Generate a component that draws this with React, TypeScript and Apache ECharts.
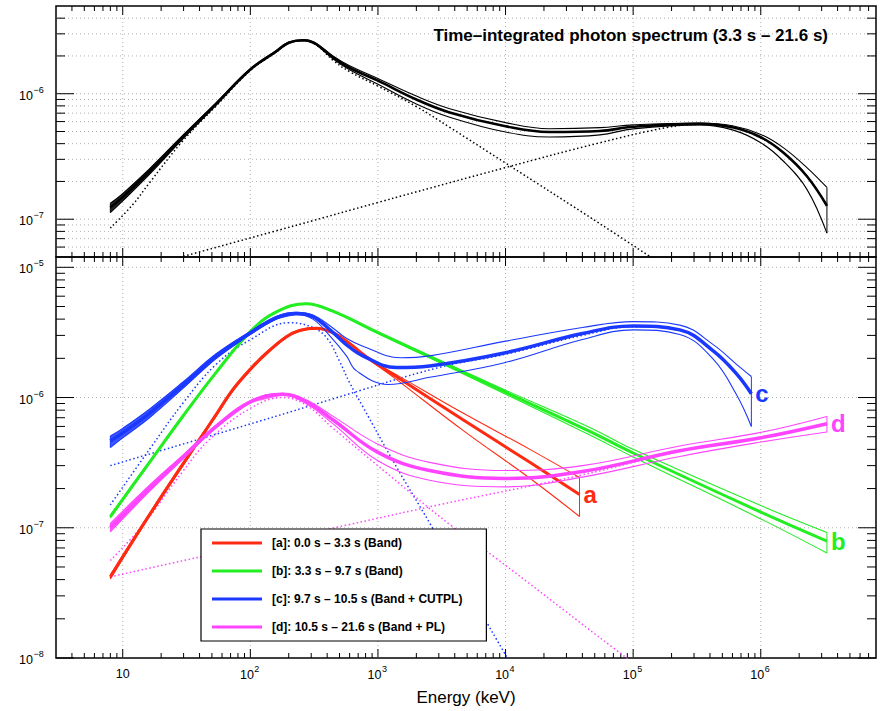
import React, { useEffect, useRef } from "react";
import * as echarts from "echarts";

const FONT = '"Liberation Sans", Arial, Helvetica, sans-serif';

// ---------- axis structure ----------
const X_MIN = 3;
const X_MAX = 8e6;
const X_MAJOR = [10, 100, 1e3, 1e4, 1e5, 1e6];
const X_LABEL_BASE = ["10", "10", "10", "10", "10", "10"];
const X_LABEL_EXP = ["", "2", "3", "4", "5", "6"];
const TOP_Y_MIN = 5e-8;
const TOP_Y_MAX = 5e-6;
const TOP_Y_MAJOR = [1e-7, 1e-6];
const TOP_Y_EXP = ["−7", "−6"];
const BOT_Y_MIN = 1e-8;
const BOT_Y_MAX = 1.2e-5;
const BOT_Y_MAJOR = [1e-8, 1e-7, 1e-6, 1e-5];
const BOT_Y_EXP = ["−8", "−7", "−6", "−5"];

const TITLE = "Time–integrated photon spectrum (3.3 s – 21.6 s)";
const LEGEND_NAMES = [
  "[a]: 0.0 s – 3.3 s (Band)",
  "[b]: 3.3 s – 9.7 s (Band)",
  "[c]: 9.7 s – 10.5 s (Band + CUTPL)",
  "[d]: 10.5 s – 21.6 s (Band + PL)",
];
const CURVE_TAGS = ["a", "b", "c", "d"];

// ---------- top panel: time-integrated spectrum [E keV, vFv] ----------
const TOP_MID = [[8,1.24e-7],[10,1.5e-7],[16.2,2.4e-7],[29.5,4.5e-7],[54,8.3e-7],[100,1.56e-6],[160,2.18e-6],[200,2.55e-6],[258,2.67e-6],[290,2.63e-6],[330,2.48e-6],[444,1.95e-6],[600,1.61e-6],[1000,1.27e-6],[2000,9.0e-7],[3650,7.1e-7],[1e4,5.5e-7],[2.2e4,4.95e-7],[5.5e4,5.05e-7],[1e5,5.45e-7],[3.3e5,5.75e-7],[6e5,5.4e-7],[1e6,4.5e-7],[1.5e6,3.4e-7],[2.3e6,2.2e-7],[3.3e6,1.28e-7]];
const TOP_HI = [[8,1.34e-7],[10,1.6e-7],[16.2,2.52e-7],[29.5,4.65e-7],[54,8.5e-7],[100,1.58e-6],[160,2.21e-6],[200,2.58e-6],[258,2.7e-6],[290,2.66e-6],[330,2.52e-6],[444,2.0e-6],[600,1.67e-6],[1000,1.32e-6],[2000,9.57e-7],[3650,7.6e-7],[1e4,5.88e-7],[2.2e4,5.26e-7],[5.5e4,5.37e-7],[1e5,5.65e-7],[3.3e5,5.85e-7],[6e5,5.55e-7],[1e6,4.74e-7],[1.5e6,3.72e-7],[2.3e6,2.58e-7],[3.3e6,1.79e-7]];
const TOP_LO = [[8,1.13e-7],[10,1.4e-7],[16.2,2.28e-7],[29.5,4.35e-7],[54,8.1e-7],[100,1.54e-6],[160,2.15e-6],[200,2.52e-6],[258,2.64e-6],[290,2.6e-6],[330,2.44e-6],[444,1.9e-6],[600,1.55e-6],[1000,1.19e-6],[2000,8.3e-7],[3650,6.5e-7],[1e4,4.95e-7],[2.2e4,4.52e-7],[5.5e4,4.7e-7],[1e5,5.25e-7],[3.3e5,5.65e-7],[6e5,5.15e-7],[1e6,4.07e-7],[1.5e6,2.91e-7],[2.3e6,1.73e-7],[3.3e6,7.74e-8]];
const TOP_BAND_COMP = [[8,8.5e-8],[12,1.31e-7],[16.2,1.95e-7],[29.5,4.2e-7],[54,8.0e-7],[100,1.53e-6],[160,2.15e-6],[200,2.52e-6],[258,2.64e-6],[330,2.44e-6],[444,1.85e-6],[600,1.5e-6],[1000,1.15e-6],[2000,7.9e-7],[3650,5.4e-7],[1e4,2.8e-7],[5.5e4,9.2e-8],[1.6e5,4.5e-8]];
const TOP_CPL_COMP = [[8,3.5e-8],[243,9.1e-8],[1000,1.36e-7],[1e4,2.58e-7],[5.5e4,4.07e-7],[1.83e5,5.37e-7],[3.3e5,5.7e-7],[6e5,5.35e-7],[1e6,4.45e-7],[1.5e6,3.4e-7],[2.3e6,2.2e-7],[3.3e6,1.28e-7]];

// ---------- bottom panel ----------
const A_MID = [[8,4.2e-8],[14.4,1.05e-7],[25,2.4e-7],[40,4.77e-7],[54,7.4e-7],[73,1.15e-6],[100,1.65e-6],[133,2.18e-6],[191,2.92e-6],[243,3.27e-6],[328,3.41e-6],[443,3.15e-6],[600,2.6e-6],[762,2.15e-6],[1000,1.78e-6],[1393,1.45e-6],[4640,6.75e-7],[1.55e4,3.18e-7],[3.8e4,1.8e-7]];
const A_HI = [[8,4.35e-8],[14.4,1.08e-7],[25,2.47e-7],[40,4.9e-7],[54,7.6e-7],[73,1.18e-6],[100,1.69e-6],[133,2.23e-6],[191,2.97e-6],[243,3.31e-6],[328,3.45e-6],[443,3.18e-6],[600,2.63e-6],[762,2.18e-6],[1000,1.8e-6],[1393,1.5e-6],[4640,7.6e-7],[1.55e4,4.0e-7],[3.8e4,2.43e-7]];
const A_LO = [[8,4.05e-8],[14.4,1.02e-7],[25,2.33e-7],[40,4.64e-7],[54,7.2e-7],[73,1.12e-6],[100,1.61e-6],[133,2.13e-6],[191,2.87e-6],[243,3.23e-6],[328,3.37e-6],[443,3.12e-6],[600,2.57e-6],[762,2.12e-6],[1000,1.75e-6],[1393,1.38e-6],[4640,5.6e-7],[1.55e4,2.4e-7],[3.8e4,1.22e-7]];

const B_MID = [[8,1.22e-7],[16.2,3.18e-7],[29.5,7.15e-7],[54,1.56e-6],[100,3.21e-6],[160,4.55e-6],[274,5.26e-6],[443,4.6e-6],[1000,3.15e-6],[3000,1.91e-6],[1e4,1.1e-6],[4.57e4,5.5e-7],[1e5,3.75e-7],[1e6,1.32e-7],[3.3e6,7.9e-8]];
const B_HI = [[8,1.25e-7],[16.2,3.24e-7],[29.5,7.28e-7],[54,1.58e-6],[100,3.25e-6],[160,4.6e-6],[274,5.3e-6],[443,4.65e-6],[1000,3.2e-6],[3000,1.95e-6],[1e4,1.14e-6],[4.57e4,5.9e-7],[1e5,4.0e-7],[1e6,1.48e-7],[3.3e6,9.2e-8]];
const B_LO = [[8,1.19e-7],[16.2,3.12e-7],[29.5,7.02e-7],[54,1.54e-6],[100,3.17e-6],[160,4.5e-6],[274,5.22e-6],[443,4.55e-6],[1000,3.1e-6],[3000,1.87e-6],[1e4,1.06e-6],[4.57e4,5.15e-7],[1e5,3.5e-7],[1e6,1.17e-7],[3.3e6,6.4e-8]];

const C_MID = [[8,4.64e-7],[10,5.36e-7],[16.2,7.57e-7],[29.5,1.24e-6],[54,2.08e-6],[100,3.13e-6],[160,4.1e-6],[229,4.42e-6],[309,4.18e-6],[430,3.25e-6],[565,2.55e-6],[762,2.09e-6],[1393,1.7e-6],[2540,1.75e-6],[1e4,2.21e-6],[4e4,3.1e-6],[1e5,3.55e-6],[2.32e5,3.31e-6],[4.24e5,2.28e-6],[6.46e5,1.52e-6],[8.44e5,1.07e-6]];
const C_HI = [[8,5.06e-7],[10,5.8e-7],[16.2,8.15e-7],[29.5,1.31e-6],[54,2.17e-6],[100,3.22e-6],[160,4.2e-6],[229,4.52e-6],[309,4.3e-6],[430,3.5e-6],[565,2.85e-6],[762,2.48e-6],[1500,2.02e-6],[2540,2.09e-6],[1e4,2.71e-6],[4e4,3.45e-6],[1e5,3.83e-6],[2.32e5,3.6e-6],[4.24e5,2.55e-6],[6.46e5,1.8e-6],[8.44e5,1.45e-6]];
const C_LO = [[8,4.13e-7],[10,4.9e-7],[16.2,7.0e-7],[29.5,1.17e-6],[54,1.99e-6],[100,3.05e-6],[160,4.0e-6],[229,4.32e-6],[309,4.0e-6],[430,2.9e-6],[565,2.1e-6],[676,1.61e-6],[1200,1.26e-6],[2540,1.43e-6],[1e4,1.86e-6],[4e4,2.79e-6],[1e5,3.31e-6],[2.32e5,3.05e-6],[4.24e5,1.97e-6],[6.46e5,1.05e-6],[8.44e5,6.0e-7]];
const C_BAND_COMP = [[8,1.5e-7],[16.2,4.0e-7],[29.5,9.0e-7],[54,1.8e-6],[100,2.78e-6],[203,3.76e-6],[309,3.45e-6],[400,2.85e-6],[500,1.9e-6],[600,1.3e-6],[762,8.5e-7],[1393,2.95e-7],[2540,1.09e-7],[4930,3.5e-8],[1.1e4,9e-9]];
const C_CUTPL_COMP = [[8,3.0e-7],[160,7.2e-7],[418,9.6e-7],[3000,1.7e-6],[1e4,2.15e-6],[4e4,3.0e-6],[1e5,3.5e-6],[2.32e5,3.28e-6],[4.24e5,2.26e-6],[6.46e5,1.5e-6],[8.44e5,1.06e-6]];

const D_MID = [[8,1.0e-7],[16.2,2.0e-7],[29.5,3.47e-7],[54,6.0e-7],[100,9.27e-7],[180,1.06e-6],[274,9.3e-7],[443,6.75e-7],[1000,3.79e-7],[2540,2.75e-7],[1e4,2.39e-7],[4e4,2.7e-7],[2.32e5,3.9e-7],[1e6,4.91e-7],[3.3e6,6.3e-7]];
const D_HI = [[8,1.08e-7],[16.2,2.12e-7],[29.5,3.6e-7],[54,6.15e-7],[100,9.45e-7],[180,1.08e-6],[274,9.6e-7],[443,7.2e-7],[1000,4.38e-7],[2540,3.18e-7],[1e4,2.75e-7],[4e4,3.0e-7],[2.32e5,4.25e-7],[1e6,5.4e-7],[3.3e6,7.16e-7]];
const D_LO = [[8,9.3e-8],[16.2,1.9e-7],[29.5,3.35e-7],[54,5.85e-7],[100,9.1e-7],[180,1.04e-6],[274,9.0e-7],[443,6.3e-7],[1000,3.27e-7],[2540,2.32e-7],[1e4,2.06e-7],[4e4,2.45e-7],[2.32e5,3.53e-7],[1e6,4.55e-7],[3.3e6,5.44e-7]];
const D_BAND_COMP = [[8,5.6e-8],[14.4,1.05e-7],[29.5,2.7e-7],[48,4.77e-7],[100,8.26e-7],[180,1.0e-6],[274,8.75e-7],[443,5.83e-7],[1236,2.52e-7],[3650,1.06e-7],[8500,5.8e-8],[5.25e4,1.48e-8],[1.2e5,8e-9]];
const D_PL_COMP = [[8,4.2e-8],[40,5.96e-8],[600,1.06e-7],[3000,1.5e-7],[4e4,2.55e-7],[2.32e5,3.86e-7],[1e6,4.9e-7],[3.3e6,6.3e-7]];

// energy up to which each band is drawn densely (solid) like the reference
const TOP_DENSE_TO = 54;
const C_DENSE_TO = 229;
const D_DENSE_TO = 180;

const RED = "#ff2a12";
const GREEN = "#22ee22";
const BLUE = "#1a38ff";
const MAGENTA = "#ff44ff";
const BLACK = "#000000";

function minorTicks(min: number, max: number, decades: number[]) {
  const out: number[] = [];
  decades.forEach((d) => {
    for (let k = 2; k <= 9; k++) {
      const v = d * k;
      if (v > min * 1.001 && v < max * 0.999) out.push(v);
    }
  });
  return out;
}

function axesSeries(gi: number, yMin: number, yMax: number, yMajor: number[], yExp: string[], gridAllY: boolean, showXLabels: boolean) {
  const xMinor = minorTicks(X_MIN, X_MAX, [1, 10, 100, 1e3, 1e4, 1e5, 1e6]);
  const yDec: number[] = [];
  for (let e = -9; e <= -4; e++) yDec.push(Math.pow(10, e));
  const yMinor = minorTicks(yMin, yMax, yDec);
  const baseStyle = { fill: "#000", fontSize: 12.5, fontFamily: FONT, verticalAlign: "middle" };
  const expStyle = { fill: "#000", fontSize: 9, fontFamily: FONT, verticalAlign: "middle" };
  return {
    type: "custom",
    xAxisIndex: gi,
    yAxisIndex: gi,
    silent: true,
    clip: false,
    z: 1,
    data: [[100, yMax]],
    renderItem: (params: any, api: any) => {
      const cs = params.coordSys;
      const L = cs.x, T = cs.y, R = cs.x + cs.width, B = cs.y + cs.height;
      const ch: any[] = [];
      const tick = { stroke: "#000", lineWidth: 1 };
      const grid = { stroke: "#b0b0b0", lineWidth: 1, lineDash: [1, 3] };
      const seg = (x1: number, y1: number, x2: number, y2: number, style: any) =>
        ch.push({ type: "line", shape: { x1, y1, x2, y2 }, style });
      X_MAJOR.forEach((e, i) => {
        const x = api.coord([e, yMax])[0];
        seg(x, T, x, B, grid);
        seg(x, B, x, B - 9, tick);
        seg(x, T, x, T + 9, tick);
        if (showXLabels) {
          if (!X_LABEL_EXP[i]) {
            ch.push({ type: "text", x, y: B + 16, style: { ...baseStyle, text: X_LABEL_BASE[i], align: "center" } });
          } else {
            const x0 = x + 3.5;
            ch.push({ type: "text", x: x0, y: B + 17, style: { ...baseStyle, text: X_LABEL_BASE[i], align: "right" } });
            ch.push({ type: "text", x: x0 + 0.5, y: B + 11, style: { ...expStyle, text: X_LABEL_EXP[i], align: "left" } });
          }
        }
      });
      xMinor.forEach((e) => {
        const x = api.coord([e, yMax])[0];
        seg(x, B, x, B - 5, tick);
        seg(x, T, x, T + 5, tick);
      });
      yMajor.forEach((v, i) => {
        const y = api.coord([100, v])[1];
        if (v > yMin * 1.001 && v < yMax * 0.999) seg(L, y, R, y, grid);
        seg(L, y, L + 18, y, tick);
        seg(R, y, R - 18, y, tick);
        ch.push({ type: "text", x: L - 23, y: y + 2, style: { ...baseStyle, text: "10", align: "right" } });
        ch.push({ type: "text", x: L - 22.5, y: y - 4, style: { ...expStyle, text: yExp[i], align: "left" } });
      });
      yMinor.forEach((v) => {
        const y = api.coord([100, v])[1];
        if (gridAllY) seg(L, y, R, y, grid);
        seg(L, y, L + 9, y, tick);
        seg(R, y, R - 9, y, tick);
      });
      return { type: "group", children: ch };
    },
  };
}

// solid fill between the upper and lower edge where the reference band is dense
function denseFill(gi: number, hi: number[][], lo: number[][], upTo: number, color: string) {
  return {
    type: "custom",
    xAxisIndex: gi,
    yAxisIndex: gi,
    silent: true,
    clip: true,
    z: 3,
    data: [[100, 1e-6]],
    renderItem: (params: any, api: any) => {
      const top = hi.filter((p) => p[0] <= upTo).map((p) => api.coord(p));
      const bot = lo.filter((p) => p[0] <= upTo).map((p) => api.coord(p)).reverse();
      return {
        type: "polygon",
        shape: { points: top.concat(bot), smooth: 0 },
        style: { fill: color, opacity: 0.85 },
      };
    },
  };
}

function curve(gi: number, data: number[][], color: string, width: number, extra: any = {}) {
  return {
    type: "line",
    xAxisIndex: gi,
    yAxisIndex: gi,
    data,
    smooth: 0.4,
    symbol: "none",
    showSymbol: false,
    silent: true,
    color,
    itemStyle: { color },
    lineStyle: { color, width, type: "solid" },
    emphasis: { disabled: true },
    z: 3,
    ...extra,
  };
}

function dotted(gi: number, data: number[][], color: string) {
  return curve(gi, data, color, 1.5, { lineStyle: { color, width: 1.5, type: [1.5, 2.5] }, z: 2 });
}

function closing(gi: number, hi: number[][], lo: number[][], color: string) {
  const s = hi[0][0], e = hi[hi.length - 1][0];
  return [
    curve(gi, [[s, hi[0][1]], [s, lo[0][1]]], color, 1, { smooth: false }),
    curve(gi, [[e, hi[hi.length - 1][1]], [e, lo[lo.length - 1][1]]], color, 1, { smooth: false }),
  ];
}

function band(gi: number, mid: number[][], hi: number[][], lo: number[][], color: string, midWidth: number, name?: string, tag?: string, denseTo?: number) {
  const midExtra: any = {};
  if (name) midExtra.name = name;
  if (tag) {
    midExtra.endLabel = {
      show: true,
      formatter: tag,
      color,
      fontSize: 24,
      fontWeight: "bold",
      fontFamily: FONT,
      distance: 4,
    };
  }
  const out: any[] = [];
  if (denseTo) out.push(denseFill(gi, hi, lo, denseTo, color));
  out.push(
    curve(gi, hi, color, 1.1),
    curve(gi, lo, color, 1.1),
    ...closing(gi, hi, lo, color),
    curve(gi, mid, color, midWidth, midExtra)
  );
  return out;
}

export default function App() {
  const ref = useRef<HTMLDivElement>(null);
  useEffect(() => {
    if (!ref.current) return;
    const chart = echarts.init(ref.current, undefined, { renderer: "svg" });
    const hiddenAxis = {
      type: "log",
      logBase: 10,
      axisLine: { show: false },
      axisTick: { show: false },
      axisLabel: { show: false },
      splitLine: { show: false },
      minorTick: { show: false },
      minorSplitLine: { show: false },
    };
    const option: any = {
      animation: false,
      backgroundColor: "#ffffff",
      textStyle: { fontFamily: FONT },
      title: {
        text: TITLE,
        right: 53,
        top: 27,
        padding: 0,
        textStyle: { fontSize: 17, fontWeight: "bold", color: "#000", fontFamily: FONT },
      },
      legend: {
        show: true,
        orient: "vertical",
        left: 201,
        top: 529,
        padding: [8, 24, 8, 11],
        itemGap: 16,
        itemWidth: 50,
        itemHeight: 3,
        icon: "rect",
        backgroundColor: "#ffffff",
        borderColor: "#000",
        borderWidth: 1.2,
        borderRadius: 0,
        selectedMode: false,
        data: LEGEND_NAMES,
        textStyle: { fontSize: 12, fontWeight: "bold", color: "#000", fontFamily: FONT, padding: [0, 0, 0, 5] },
        z: 10,
      },
      grid: [
        { left: 56, top: 6, width: 820, height: 251, show: true, borderColor: "#000", borderWidth: 1.5, backgroundColor: "transparent" },
        { left: 56, top: 257, width: 820, height: 409, show: true, borderColor: "#000", borderWidth: 1.5, backgroundColor: "transparent" },
      ],
      xAxis: [
        { ...hiddenAxis, gridIndex: 0, min: X_MIN, max: X_MAX },
        {
          ...hiddenAxis,
          gridIndex: 1,
          min: X_MIN,
          max: X_MAX,
          name: "Energy (keV)",
          nameLocation: "middle",
          nameGap: 31,
          nameTextStyle: { fontSize: 17, color: "#000", fontFamily: FONT },
        },
      ],
      yAxis: [
        { ...hiddenAxis, gridIndex: 0, min: TOP_Y_MIN, max: TOP_Y_MAX },
        { ...hiddenAxis, gridIndex: 1, min: BOT_Y_MIN, max: BOT_Y_MAX },
      ],
      series: [
        axesSeries(0, TOP_Y_MIN, TOP_Y_MAX, TOP_Y_MAJOR, TOP_Y_EXP, true, false),
        axesSeries(1, BOT_Y_MIN, BOT_Y_MAX, BOT_Y_MAJOR, BOT_Y_EXP, false, true),
        // top panel
        dotted(0, TOP_BAND_COMP, BLACK),
        dotted(0, TOP_CPL_COMP, BLACK),
        ...band(0, TOP_MID, TOP_HI, TOP_LO, BLACK, 2.6, undefined, undefined, TOP_DENSE_TO),
        // bottom panel components
        dotted(1, C_BAND_COMP, BLUE),
        dotted(1, C_CUTPL_COMP, BLUE),
        dotted(1, D_BAND_COMP, MAGENTA),
        dotted(1, D_PL_COMP, MAGENTA),
        ...band(1, A_MID, A_HI, A_LO, RED, 3, LEGEND_NAMES[0], CURVE_TAGS[0]),
        ...band(1, B_MID, B_HI, B_LO, GREEN, 3, LEGEND_NAMES[1], CURVE_TAGS[1]),
        ...band(1, C_MID, C_HI, C_LO, BLUE, 3.5, LEGEND_NAMES[2], CURVE_TAGS[2], C_DENSE_TO),
        ...band(1, D_MID, D_HI, D_LO, MAGENTA, 3.5, LEGEND_NAMES[3], CURVE_TAGS[3], D_DENSE_TO),
      ],
    };
    chart.setOption(option);
    return () => chart.dispose();
  }, []);
  return <div ref={ref} style={{ position: "fixed", left: 0, top: 0, width: 881, height: 711 }} />;
}
